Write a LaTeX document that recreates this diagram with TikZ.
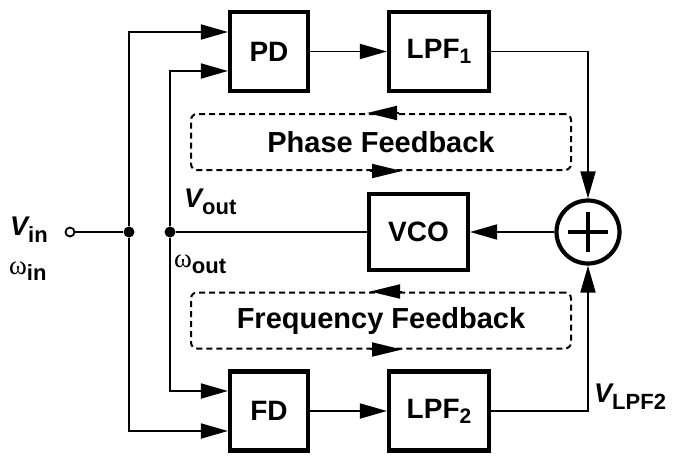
\documentclass[tikz,border=0pt]{standalone}
\usepackage{fontspec}
\setmainfont{Liberation Sans}
\newfontfamily\greekfont{Liberation Serif}
\usetikzlibrary{arrows.meta}

\newcommand{\sigsub}[2]{{\fontsize{27}{29}\selectfont\itshape #1}\raisebox{-7pt}{\fontsize{22}{24}\selectfont #2}}
\newcommand{\freqsub}[1]{{\greekfont\fontsize{27}{29}\selectfont\mdseries ω}\raisebox{-6pt}{\fontsize{22}{24}\selectfont #1}}
\newcommand{\lpfsub}[1]{LPF\raisebox{-5pt}{\fontsize{21}{22}\selectfont #1}}

\begin{document}
\begin{tikzpicture}[x=1pt,y=-1pt,font=\bfseries,
	wire/.style={line width=1.9pt},
	flow/.style={wire,-{Triangle[length=27pt,width=15pt]}},
	block/.style={draw,line width=4.2pt,minimum width=#1,minimum height=79pt,inner sep=0pt,font=\fontsize{28}{30}\selectfont\bfseries},
	fb/.style={draw,dash pattern=on 6pt off 4pt,line width=2pt,rounded corners=6pt,minimum width=380pt,minimum height=56pt,font=\fontsize{29}{31}\selectfont\bfseries},
	add/.style={circle,draw,line width=4.2pt,minimum size=63pt,inner sep=0pt},
	dot/.style={circle,fill,inner sep=0pt,minimum size=11pt},
	term/.style={circle,draw,fill=white,line width=1.8pt,inner sep=0pt,minimum size=9pt},
	lbl/.style={anchor=base west,inner sep=0pt}]

	\useasboundingbox (0,0) rectangle (679,464);

	% blocks
	\node[block=78pt] (pd) at (269,51.5) {PD};
	\node[block=100pt] (lpfa) at (439,51.5) {\lpfsub{1}};
	\node[block=99pt,minimum height=76pt] (vco) at (418.5,232) {VCO};
	\node[add] (sum) at (588,232) {};
	\node[block=78pt] (fd) at (269,411) {FD};
	\node[block=100pt] (lpfb) at (439,411) {\lpfsub{2}};
	\draw[line width=4.2pt] ([xshift=-20pt]sum.center) -- ([xshift=20pt]sum.center);
	\draw[line width=4.2pt] ([yshift=-20pt]sum.center) -- ([yshift=20pt]sum.center);

	% feedback loops
	\node[fb] (pfb) at (381,142) {Phase Feedback};
	\node[fb] (ffb) at (381,320.5) {Frequency Feedback};
	\draw[wire,-{Triangle[length=30pt,width=14pt]}] ([xshift=18pt]pfb.north) -- ([xshift=-14pt]pfb.north);
	\draw[wire,-{Triangle[length=30pt,width=14pt]}] ([xshift=-11pt]pfb.south) -- ([xshift=21pt]pfb.south);
	\draw[wire,-{Triangle[length=30pt,width=14pt]}] ([xshift=21pt]ffb.north) -- ([xshift=-11pt]ffb.north);
	\draw[wire,-{Triangle[length=30pt,width=14pt]}] ([xshift=-11pt]ffb.south) -- ([xshift=21pt]ffb.south);

	% input and output
	\node[term] (vin) at (70,232) {};
	\node[dot] (ja) at (129,232) {};
	\node[dot] (jb) at (170,232) {};
	\draw[wire] (vin) -- (ja);
	\draw[wire] (vco) -- (jb);
	\draw[flow] (ja) |- ([yshift=19.5pt]pd.west);
	\draw[flow] (jb) |- ([yshift=-19.5pt]pd.west);
	\draw[flow] (jb) |- ([yshift=20pt]fd.west);
	\draw[flow] (ja) |- ([yshift=-20pt]fd.west);
	\draw[flow] (pd) -- (lpfa);
	\draw[flow] (fd) -- (lpfb);
	\draw[flow] (lpfa) -| (sum);
	\draw[flow] (lpfb) -| (sum);
	\draw[flow] (sum) -- (vco);

	% labels
	\node[lbl] (lvin) at (10,235) {\sigsub{V}{in}};
	\node[lbl] (lwin) at (9,274) {\freqsub{in}};
	\node[lbl] (lvout) at (184,207) {\sigsub{V}{out}};
	\node[lbl] (lwout) at (174,267) {\freqsub{out}};
	\node[lbl] (lvlpf) at (594,402) {\sigsub{V}{LPF2}};

\end{tikzpicture}
\end{document}
